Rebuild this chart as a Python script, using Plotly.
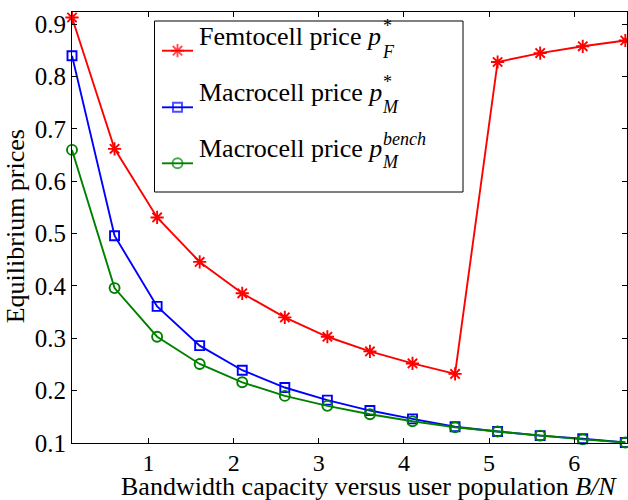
import plotly.graph_objects as go

# Bandwidth capacity per user (B/N)
bn = [0.1, 0.6, 1.1, 1.6, 2.1, 2.6, 3.1, 3.6, 4.1, 4.6, 5.1, 5.6, 6.1, 6.6]

# Equilibrium prices
femto_price = [0.913, 0.662, 0.531, 0.446, 0.386, 0.340, 0.303, 0.275, 0.252, 0.232,
               0.828, 0.845, 0.858, 0.869]
macro_price = [0.840, 0.496, 0.361, 0.286, 0.239, 0.206, 0.182, 0.162, 0.146, 0.131,
               0.122, 0.114, 0.108, 0.101]
macro_bench = [0.660, 0.396, 0.303, 0.251, 0.216, 0.190, 0.171, 0.155, 0.1415, 0.130,
               0.122, 0.114, 0.107, 0.101]

x_ticks = [1, 2, 3, 4, 5, 6]
y_ticks = [0.1, 0.2, 0.3, 0.4, 0.5, 0.6, 0.7, 0.8, 0.9]

FONT = "Liberation Serif, Times New Roman, serif"
W, H = 628, 500
ML, MR, MT, MB = 72, 1, 12, 57
PW, PH = W - ML - MR, H - MT - MB


def px_x(px):
    return (px - ML) / PW


def px_y(py):
    return (H - MB - py) / PH


series = [
    ("Femtocell price", femto_price, "red", "asterisk-open", 11),
    ("Macrocell price", macro_price, "blue", "square-open", 9),
    ("Macrocell price bench", macro_bench, "green", "circle-open", 10),
]

fig = go.Figure()
for name, vals, color, sym, size in series:
    fig.add_trace(go.Scatter(
        x=bn, y=vals, mode="lines+markers", name=name, showlegend=False,
        cliponaxis=False,
        line=dict(color=color, width=1.9),
        marker=dict(symbol=sym, size=size, color=color, line=dict(color=color, width=1.9)),
    ))

# Legend samples drawn on an overlay axis spanning the plot area in [0, 1]
legend_rows = [50.7, 107.3, 163.3]
for (name, vals, color, sym, size), row in zip(series, legend_rows):
    yy = px_y(row)
    fig.add_trace(go.Scatter(
        x=[px_x(162), px_x(177.5), px_x(193)], y=[yy, yy, yy],
        xaxis="x2", yaxis="y2", mode="lines+markers", showlegend=False,
        hoverinfo="skip",
        line=dict(color=color, width=1.9),
        marker=dict(symbol=sym, size=[0, size, 0], color=color,
                    line=dict(color=color, width=1.9)),
    ))

fig.add_shape(type="rect", xref="paper", yref="paper",
              x0=px_x(154.5), x1=px_x(463), y0=px_y(192), y1=px_y(21),
              line=dict(color="black", width=1), fillcolor="rgba(0,0,0,0)")

annotations = []
main_mid = [36.3, 92.0, 148.0]
sup_mid = [26.0, 82.5, 139.0]
sub_mid = [52.0, 107.0, 162.0]
labels = ["Femtocell price <i>p</i>", "Macrocell price <i>p</i>", "Macrocell price <i>p</i>"]
sups = ["*", "*", "<i>bench</i>"]
subs = ["<i>F</i>", "<i>M</i>", "<i>M</i>"]
for i in range(3):
    annotations.append(dict(text=labels[i], x=px_x(197), y=px_y(main_mid[i]),
                            xref="paper", yref="paper", xanchor="left", yanchor="middle",
                            showarrow=False, font=dict(family=FONT, size=26, color="black")))
    annotations.append(dict(text=sups[i], x=px_x(380.5), y=px_y(sup_mid[i]),
                            xref="paper", yref="paper", xanchor="left", yanchor="middle",
                            showarrow=False, font=dict(family=FONT, size=18, color="black")))
    annotations.append(dict(text=subs[i], x=px_x(379.5), y=px_y(sub_mid[i]),
                            xref="paper", yref="paper", xanchor="left", yanchor="middle",
                            showarrow=False, font=dict(family=FONT, size=18, color="black")))

# Axis titles
annotations.append(dict(text="Bandwidth capacity versus user population <i>B/N</i>",
                        x=px_x(368.5), y=px_y(486.0), xref="paper", yref="paper",
                        xanchor="center", yanchor="middle", showarrow=False,
                        font=dict(family=FONT, size=26, color="black")))
annotations.append(dict(text="Equilibrium prices", textangle=-90,
                        x=px_x(16.3), y=px_y(226), xref="paper", yref="paper",
                        xanchor="center", yanchor="middle", showarrow=False,
                        font=dict(family=FONT, size=26, color="black")))

axis_common = dict(showline=True, linecolor="black", linewidth=1, mirror="ticks",
                   ticks="inside", ticklen=5, tickcolor="black", tickwidth=1,
                   showgrid=False, zeroline=False)

fig.update_layout(
    width=W, height=H,
    margin=dict(l=ML, r=MR, t=MT, b=MB, autoexpand=False),
    paper_bgcolor="white", plot_bgcolor="white",
    showlegend=False,
    xaxis=dict(range=[0.1, 6.62], tickvals=x_ticks, ticklabelstandoff=-2,
               tickfont=dict(family=FONT, size=24, color="black"), **axis_common),
    yaxis=dict(range=[0.1, 0.9235], tickvals=y_ticks, tickformat=".1f",
               tickfont=dict(family=FONT, size=25, color="black"), **axis_common),
    xaxis2=dict(overlaying="x", range=[0, 1], visible=False, anchor="y2"),
    yaxis2=dict(overlaying="y", range=[0, 1], visible=False, anchor="x2"),
    annotations=annotations,
)

fig.write_html("out.html")
